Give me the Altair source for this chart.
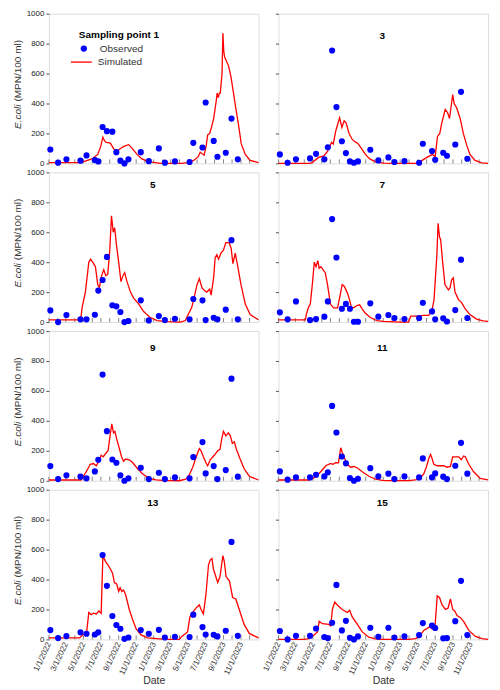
import altair as alt
import pandas as pd

# ---------------- data ----------------
X_START = "2022-01-01"

PANEL_NAMES = ["Sampling point 1", "3", "5", "7", "9", "11", "13", "15"]
Y_TITLE_PARTS = ["E.coli", "(MPN/100 ml)"]
X_TITLE = "Date"

OBS_DATES = [
    "2022-01-06", "2022-02-02", "2022-03-03", "2022-04-21", "2022-05-12",
    "2022-06-10", "2022-06-22", "2022-07-07", "2022-07-22", "2022-08-10",
    "2022-08-24", "2022-09-07", "2022-09-21", "2022-10-05", "2022-11-17",
    "2022-12-15", "2023-01-19", "2023-02-09", "2023-03-16", "2023-05-06",
    "2023-05-19", "2023-06-20", "2023-07-01", "2023-07-29", "2023-08-11",
    "2023-09-09", "2023-09-29", "2023-10-21",
]

OBS_1 = [93, 5, 27, 18, 53, 22, 13, 243, 215, 212, 75, 18, 0, 27, 75, 15, 100, 5, 13, 9, 137, 106, 407, 150, 44, 71, 299, 27]
OBS_3 = [60, 4, 27, 33, 64, 27, 108, 754, 376, 148, 69, 13, 4, 13, 91, 20, 40, 9, 15, 4, 131, 82, 24, 71, 51, 126, 478, 31]
OBS_5 = [78, 0, 47, 18, 18, 49, 210, 281, 435, 112, 105, 67, 0, 7, 145, 11, 40, 13, 22, 18, 154, 145, 13, 29, 18, 83, 547, 18]
OBS_7 = [65, 18, 138, 13, 20, 36, 138, 688, 431, 89, 121, 89, 2, 2, 125, 36, 47, 27, 20, 27, 129, 71, 18, 25, 4, 80, 417, 27]
OBS_9 = [98, 11, 36, 27, 16, 62, 140, 709, 331, 142, 120, 36, 0, 16, 87, 11, 53, 11, 22, 16, 158, 258, 49, 98, 11, 71, 682, 27]
OBS_11 = [62, 7, 22, 22, 40, 29, 56, 500, 322, 162, 116, 18, 0, 13, 84, 29, 47, 11, 29, 22, 149, 22, 49, 27, 11, 100, 253, 47]
OBS_13 = [62, 9, 22, 47, 38, 33, 47, 564, 358, 156, 96, 71, 4, 13, 62, 38, 64, 13, 18, 16, 165, 82, 33, 31, 20, 58, 651, 24]
OBS_15 = [56, 0, 24, 24, 73, 16, 9, 111, 364, 60, 124, 11, 0, 20, 78, 18, 78, 13, 20, 29, 109, 93, 76, 7, 9, 122, 391, 29]

# simulated series: day offsets from 2022-01-01 and values
SIM_DAYS_1 = [0, 110, 150, 170, 180, 188, 194, 200, 214, 225, 232, 240, 249, 263, 278, 290, 307, 324, 348, 377, 388, 463, 481, 504, 520, 527, 541, 548, 553, 560, 566, 574, 583, 586, 590, 594, 597, 603, 606, 609, 612, 626, 634, 643, 650, 661, 670, 684, 701, 730]
SIM_VALS_1 = [5, 5, 30, 60, 110, 175, 150, 140, 135, 100, 80, 85, 100, 115, 125, 100, 60, 30, 10, 3, 0, 0, 5, 20, 45, 75, 55, 120, 190, 200, 240, 300, 420, 470, 440, 470, 470, 600, 870, 750, 710, 650, 580, 470, 380, 250, 130, 60, 20, 5]

SIM_DAYS_3 = [0, 110, 117, 140, 158, 171, 185, 191, 200, 213, 221, 229, 236, 246, 257, 270, 276, 289, 303, 318, 338, 367, 400, 480, 488, 517, 537, 546, 554, 562, 569, 581, 589, 596, 607, 612, 621, 633, 644, 656, 667, 685, 708, 730]
SIM_VALS_3 = [0, 0, 5, 40, 50, 80, 140, 130, 220, 305, 240, 285, 270, 200, 160, 140, 135, 100, 60, 30, 10, 2, 0, 0, 5, 40, 60, 45, 180, 200, 270, 360, 340, 300, 460, 400, 370, 300, 200, 120, 60, 20, 3, 0]

SIM_DAYS_5 = [0, 98, 110, 116, 127, 139, 145, 154, 162, 170, 176, 182, 191, 198, 205, 212, 218, 224, 229, 235, 243, 251, 258, 264, 272, 284, 295, 313, 330, 353, 377, 411, 458, 475, 498, 516, 524, 533, 542, 550, 560, 565, 574, 579, 585, 591, 599, 608, 616, 628, 635, 641, 649, 657, 669, 684, 701, 730]
SIM_VALS_5 = [15, 15, 10, 100, 200, 400, 420, 395, 370, 250, 230, 300, 350, 310, 320, 480, 710, 600, 630, 520, 400, 270, 310, 330, 270, 200, 160, 120, 70, 30, 10, 3, 0, 10, 100, 250, 290, 230, 210, 200, 220, 180, 300, 430, 450, 420, 460, 480, 530, 530, 490, 390, 460, 380, 250, 120, 50, 15]

SIM_DAYS_7 = [0, 94, 97, 105, 111, 119, 125, 131, 137, 142, 148, 155, 163, 171, 181, 192, 206, 215, 222, 229, 239, 246, 254, 262, 273, 283, 291, 302, 320, 343, 366, 424, 453, 461, 482, 505, 523, 534, 542, 547, 552, 556, 561, 565, 572, 580, 592, 598, 603, 609, 615, 627, 638, 650, 667, 690, 713, 730]
SIM_VALS_7 = [15, 15, 50, 100, 120, 270, 400, 370, 410, 360, 370, 350, 330, 250, 120, 95, 95, 180, 250, 240, 200, 160, 100, 95, 110, 115, 90, 60, 30, 10, 5, 0, 0, 40, 40, 45, 45, 70, 150, 300, 450, 660, 570, 550, 400, 250, 215, 230, 280, 295, 200, 150, 130, 90, 50, 20, 8, 5]

SIM_DAYS_9 = [0, 112, 130, 144, 155, 165, 174, 182, 189, 197, 206, 213, 219, 225, 230, 236, 246, 253, 260, 267, 280, 292, 309, 327, 350, 373, 396, 454, 477, 489, 501, 515, 524, 530, 538, 547, 553, 562, 576, 588, 596, 602, 608, 616, 625, 632, 639, 646, 653, 665, 680, 698, 730]
SIM_VALS_9 = [5, 5, 60, 110, 115, 100, 130, 170, 160, 180, 200, 300, 380, 320, 330, 280, 210, 160, 130, 145, 140, 120, 80, 45, 15, 5, 2, 0, 10, 40, 90, 170, 215, 200, 160, 120, 100, 140, 170, 200, 210, 280, 330, 300, 320, 300, 250, 260, 210, 150, 80, 30, 5]

SIM_DAYS_11 = [0, 107, 130, 147, 165, 182, 190, 199, 209, 217, 222, 228, 240, 251, 263, 275, 292, 315, 338, 362, 385, 454, 477, 495, 506, 515, 524, 530, 535, 541, 553, 576, 587, 599, 607, 617, 628, 637, 645, 651, 663, 680, 703, 730]
SIM_VALS_11 = [5, 5, 25, 60, 100, 115, 110, 120, 120, 220, 190, 160, 110, 90, 95, 85, 60, 30, 10, 3, 0, 0, 5, 20, 45, 90, 150, 175, 150, 110, 100, 100, 90, 95, 160, 160, 160, 140, 165, 160, 110, 60, 15, 5]

SIM_DAYS_13 = [0, 107, 124, 132, 139, 147, 155, 165, 174, 182, 188, 197, 205, 214, 222, 228, 236, 243, 248, 254, 260, 267, 280, 292, 304, 321, 344, 385, 408, 454, 463, 483, 491, 501, 515, 524, 530, 538, 547, 556, 562, 568, 573, 583, 588, 596, 606, 611, 617, 629, 640, 651, 663, 680, 698, 730]
SIM_VALS_13 = [10, 10, 40, 60, 180, 165, 175, 170, 190, 175, 560, 520, 500, 470, 440, 380, 370, 320, 345, 320, 330, 300, 200, 130, 70, 30, 10, 3, 0, 0, 20, 50, 150, 180, 215, 230, 200, 170, 300, 500, 530, 540, 470, 410, 380, 420, 560, 520, 420, 390, 280, 270, 200, 100, 40, 10]

SIM_DAYS_15 = [0, 89, 107, 124, 136, 142, 153, 176, 182, 188, 196, 205, 222, 240, 248, 257, 275, 292, 315, 338, 362, 454, 477, 491, 506, 524, 530, 535, 545, 553, 561, 570, 582, 591, 599, 607, 614, 622, 634, 645, 663, 686, 709, 730]
SIM_VALS_15 = [0, 0, 5, 30, 50, 120, 105, 100, 90, 200, 250, 230, 200, 180, 195, 150, 100, 50, 15, 3, 0, 0, 5, 20, 60, 80, 85, 70, 75, 290, 280, 230, 200, 210, 270, 200, 190, 160, 145, 120, 60, 20, 5, 0]

TICK_MONTHS = [
    "2022-01-01", "2022-02-01", "2022-03-01", "2022-04-01", "2022-05-01", "2022-06-01",
    "2022-07-01", "2022-08-01", "2022-09-01", "2022-10-01", "2022-11-01", "2022-12-01",
    "2023-01-01", "2023-02-01", "2023-03-01", "2023-04-01", "2023-05-01", "2023-06-01",
    "2023-07-01", "2023-08-01", "2023-09-01", "2023-10-01", "2023-11-01", "2023-12-01",
]
LABEL_MONTHS = [(2022, 1), (2022, 3), (2022, 5), (2022, 7), (2022, 9), (2022, 11),
                (2023, 1), (2023, 3), (2023, 5), (2023, 7), (2023, 9), (2023, 11)]
Y_TICKS = [0, 200, 400, 600, 800, 1000]

OBS_ALL = [OBS_1, OBS_3, OBS_5, OBS_7, OBS_9, OBS_11, OBS_13, OBS_15]
SIM_DAYS_ALL = [SIM_DAYS_1, SIM_DAYS_3, SIM_DAYS_5, SIM_DAYS_7, SIM_DAYS_9, SIM_DAYS_11, SIM_DAYS_13, SIM_DAYS_15]
SIM_VALS_ALL = [SIM_VALS_1, SIM_VALS_3, SIM_VALS_5, SIM_VALS_7, SIM_VALS_9, SIM_VALS_11, SIM_VALS_13, SIM_VALS_15]

# ---------------- layout / style ----------------
W, H = 210, 150
TITLE_Y = [22, 22, 13, 13, 17, 17, 13, 13]
FONT = "Liberation Sans"
BLUE = "#0000ff"
RED = "#ff0000"

x_scale = alt.Scale(type="utc",
                    domain=[alt.DateTime(year=2022, month=1, date=1, utc=True),
                            alt.DateTime(year=2024, month=1, date=1, utc=True)])
y_scale = alt.Scale(domain=[0, 1000], nice=False)


def make_panel(i):
    row, col = divmod(i, 2)
    bottom = row == 3
    left = col == 0
    start = pd.Timestamp(X_START)
    obs_df = pd.DataFrame({"date": OBS_DATES, "value": OBS_ALL[i], "series": "Observed"})
    sim_dates = [(start + pd.Timedelta(days=d)).strftime("%Y-%m-%d") for d in SIM_DAYS_ALL[i]]
    sim_df = pd.DataFrame({"date": sim_dates, "value": SIM_VALS_ALL[i], "series": "Simulated"})
    tick_df = pd.DataFrame({"date": TICK_MONTHS})

    if bottom:
        x_axis = alt.Axis(
            values=[alt.DateTime(year=y, month=m, date=1, utc=True) for y, m in LABEL_MONTHS],
            labelExpr="utcFormat(datum.value, '%-m/%-d/%Y')",
            labelAngle=295, labelAlign="right", labelBaseline="middle",
            labelFontSize=8, labelColor="#333", labelPadding=3,
            ticks=False, domain=False, grid=False,
            title=X_TITLE, titleFontSize=10.5, titleFontWeight="normal",
            titleColor="#333", titlePadding=0, labelOverlap=False,
        )
    else:
        x_axis = None

    y_axis = alt.Axis(
        values=Y_TICKS, format="d", grid=False, domain=False,
        tickSize=3, tickColor="#555", labels=left,
        labelFontSize=8, labelColor="#222", labelPadding=2,
        title=None,
    )

    x_enc = alt.X("date:T", scale=x_scale, axis=x_axis)
    y_enc = alt.Y("value:Q", scale=y_scale, axis=y_axis)

    ticks = alt.Chart(tick_df).mark_rule(color="#666", strokeWidth=0.8).encode(
        x=alt.X("date:T", scale=x_scale, axis=x_axis),
        y=alt.value(H), y2=alt.value(H - 4),
    )

    if i == 0:
        line = alt.Chart(sim_df).mark_line(strokeWidth=1.3).encode(
            x=x_enc, y=y_enc,
            stroke=alt.Stroke("series:N",
                              scale=alt.Scale(domain=["Simulated"], range=[RED]),
                              legend=alt.Legend(title=None, orient="none", legendX=21, legendY=37,
                                                symbolSize=440, symbolStrokeWidth=1.3,
                                                labelFontSize=10, labelColor="#333",
                                                labelFont=FONT, labelOffset=5, padding=0)),
        )
        pts = alt.Chart(obs_df).mark_circle(size=38, opacity=1).encode(
            x=x_enc, y=y_enc,
            fill=alt.Fill("series:N",
                          scale=alt.Scale(domain=["Observed"], range=[BLUE]),
                          legend=alt.Legend(title=PANEL_NAMES[0], orient="none",
                                            legendX=30, legendY=16,
                                            titleFontSize=10, titleFontWeight="bold",
                                            titleColor="#000", titleFont=FONT,
                                            titlePadding=4, symbolSize=40,
                                            labelFontSize=10, labelColor="#333",
                                            labelFont=FONT, labelOffset=11, padding=0)),
        )
        layers = [ticks, line, pts]
    else:
        line = alt.Chart(sim_df).mark_line(strokeWidth=1.3, color=RED).encode(x=x_enc, y=y_enc)
        pts = alt.Chart(obs_df).mark_circle(size=38, opacity=1, color=BLUE).encode(x=x_enc, y=y_enc)
        title = alt.Chart(pd.DataFrame({"t": [PANEL_NAMES[i]]})).mark_text(
            fontWeight="bold", fontSize=10, font=FONT, color="#000"
        ).encode(text="t:N", x=alt.value(104), y=alt.value(TITLE_Y[i]))
        layers = [ticks, line, pts, title]

    if left:
        ytitle_a = alt.Chart(pd.DataFrame({"t": [Y_TITLE_PARTS[0]]})).mark_text(
            angle=270, align="right", baseline="middle", fontSize=10, fontStyle="italic",
            font=FONT, color="#333"
        ).encode(text="t:N", x=alt.value(-31), y=alt.value(91))
        ytitle_b = alt.Chart(pd.DataFrame({"t": [Y_TITLE_PARTS[1]]})).mark_text(
            angle=270, align="left", baseline="middle", fontSize=10,
            font=FONT, color="#333"
        ).encode(text="t:N", x=alt.value(-31), y=alt.value(88))
        layers += [ytitle_a, ytitle_b]

    return alt.layer(*layers).properties(width=W, height=H)


panels = [make_panel(i) for i in range(8)]

chart = alt.concat(
    *panels, columns=2, spacing={"row": 9, "column": 20}, bounds="flush"
).resolve_scale(
    fill="independent", stroke="independent"
).properties(
    padding={"left": 4, "top": 0, "right": 0, "bottom": 0},
).configure_view(
    stroke="#888", strokeWidth=1.5
).configure(font=FONT)

chart.save("out.html", embed_options={"renderer": "svg", "actions": False})
